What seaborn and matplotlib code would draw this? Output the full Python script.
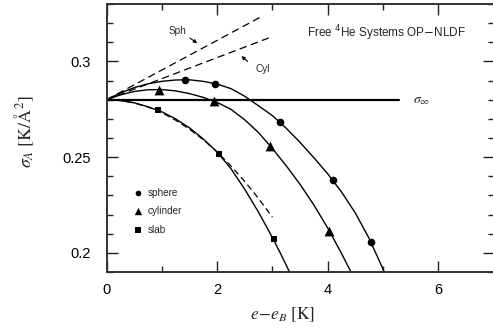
import matplotlib
matplotlib.use("Agg")
import matplotlib.pyplot as plt
import numpy as np
import pandas as pd
import seaborn as sns

# --- data -------------------------------------------------------------
sigma_inf = 0.28

# calculated points
sphere_e = [1.42, 1.96, 3.14, 4.10, 4.78]
sphere_s = [0.2905, 0.2884, 0.2682, 0.2380, 0.2059]
cyl_e = [0.955, 1.95, 2.96, 4.03]
cyl_s = [0.2853, 0.2793, 0.2557, 0.2116]
slab_e = [0.937, 2.03, 3.02]
slab_s = [0.2745, 0.2516, 0.2071]

# fitted curves through the points
sphere_curve_e = [0.0, 0.25, 0.5, 0.75, 1.0, 1.25, 1.5, 1.75, 2.0, 2.25, 2.5, 2.75,
                  3.0, 3.25, 3.5, 3.75, 4.0, 4.25, 4.5, 4.75, 5.0, 5.02]
sphere_curve_s = [0.2800, 0.2835, 0.2863, 0.2883, 0.2896, 0.2903, 0.2904, 0.2896,
                  0.2882, 0.2858, 0.2818, 0.2768, 0.2717, 0.2651, 0.2577, 0.2497,
                  0.2413, 0.2318, 0.2208, 0.2075, 0.1915, 0.1900]
cyl_curve_e = [0.0, 0.25, 0.5, 0.75, 1.0, 1.25, 1.5, 1.75, 2.0, 2.25, 2.5, 2.75,
               3.0, 3.25, 3.5, 3.75, 4.0, 4.25, 4.42]
cyl_curve_s = [0.2800, 0.2825, 0.2843, 0.2852, 0.2853, 0.2846, 0.2832, 0.2812,
               0.2786, 0.2750, 0.2695, 0.2628, 0.2545, 0.2455, 0.2358, 0.2250,
               0.2130, 0.1997, 0.1900]
slab_curve_e = [0.0, 0.25, 0.5, 0.75, 1.0, 1.25, 1.5, 1.75, 2.0, 2.25, 2.5, 2.75,
                3.0, 3.15, 3.31]
slab_curve_s = [0.2800, 0.2796, 0.2784, 0.2763, 0.2737, 0.2700, 0.2653, 0.2595,
                0.2527, 0.2440, 0.2332, 0.2212, 0.2080, 0.1995, 0.1900]

# small-curvature expansions (dashed)
slab_dash_e = [0.0, 0.25, 0.5, 0.75, 1.0, 1.25, 1.5, 1.75, 2.0, 2.25, 2.5, 2.75, 3.0]
slab_dash_s = [0.2800, 0.2796, 0.2783, 0.2762, 0.2732, 0.2693, 0.2646, 0.2591,
               0.2527, 0.2454, 0.2373, 0.2284, 0.2186]
sph_dash_e = [0.0, 2.8]
sph_dash_s = [0.28, 0.3234]
cyl_dash_e = [0.0, 3.0]
cyl_dash_s = [0.28, 0.3130]

sigma_line_e = [0.0, 5.29]

# --- style ------------------------------------------------------------
sns.set_theme(style="ticks")
plt.rcParams["font.family"] = ["Liberation Sans", "DejaVu Sans"]
plt.rcParams["mathtext.fontset"] = "stix"

fig = plt.figure(figsize=(4.93, 3.35), dpi=100)
ax = fig.add_axes([106.5 / 493, 1 - 272 / 335, 387.1 / 493, 268 / 335])

def curve(e, s, dashes=None, **kw):
    df = pd.DataFrame({"e": e, "s": s})
    line = sns.lineplot(data=df, x="e", y="s", ax=ax, sort=False, estimator=None,
                        color="black", **kw).lines[-1]
    if dashes is not None:
        line.set_dashes(dashes)

curve(sphere_curve_e, sphere_curve_s, lw=1.0)
curve(cyl_curve_e, cyl_curve_s, lw=1.0)
curve(slab_curve_e, slab_curve_s, lw=1.0)
curve(slab_dash_e, slab_dash_s, lw=0.9, dashes=(5, 3))
curve(sph_dash_e, sph_dash_s, lw=0.9, dashes=(6, 3.5))
curve(cyl_dash_e, cyl_dash_s, lw=0.9, dashes=(6, 3.5))
curve(sigma_line_e, [sigma_inf, sigma_inf], lw=1.6)

sns.scatterplot(x=sphere_e, y=sphere_s, ax=ax, marker="o", s=30,
                color="black", edgecolor="black", linewidth=0, label="sphere")
sns.scatterplot(x=cyl_e, y=cyl_s, ax=ax, marker="^", s=50,
                color="black", edgecolor="black", linewidth=0, label="cylinder")
sns.scatterplot(x=slab_e, y=slab_s, ax=ax, marker="s", s=24,
                color="black", edgecolor="black", linewidth=0, label="slab")

handles, labels = ax.get_legend_handles_labels()
keep = [i for i, l in enumerate(labels) if l in ("sphere", "cylinder", "slab")]
ax.legend([handles[i] for i in keep], [labels[i] for i in keep],
          loc="upper left", bbox_to_anchor=(0.062, 0.33), frameon=False,
          fontsize=7.2, markerscale=0.75, handlelength=0.6, handletextpad=0.7,
          labelspacing=0.85, borderaxespad=0)

# --- annotations ------------------------------------------------------
ax.text(5.06, 0.3146, r"Free $^{4}$He Systems OP$-$NLDF", ha="center", va="center",
        fontsize=8.5, math_fontfamily="dejavusans")
ax.text(5.54, 0.2800, r"$\sigma_\infty$", ha="left", va="center", fontsize=10)
ax.text(1.29, 0.3158, "Sph", ha="center", va="center", fontsize=7.2)
ax.text(2.83, 0.2962, "Cyl", ha="center", va="center", fontsize=7.2)
ax.annotate("", xy=(1.64, 0.3095), xytext=(1.51, 0.3122),
            arrowprops=dict(arrowstyle="-|>", lw=0.8, color="black",
                            mutation_scale=5, shrinkA=0, shrinkB=0))
ax.annotate("", xy=(2.44, 0.3028), xytext=(2.55, 0.3000),
            arrowprops=dict(arrowstyle="-|>", lw=0.8, color="black",
                            mutation_scale=5, shrinkA=0, shrinkB=0))

# --- axes -------------------------------------------------------------
ax.set_xlim(0, 7)
ax.set_ylim(0.19, 0.33)
ax.set_xticks([0, 2, 4, 6])
ax.set_xticks([1, 3, 5], minor=True)
ax.set_yticks([0.2, 0.25, 0.3])
ax.set_yticklabels(["0.2", "0.25", "0.3"])
ax.set_yticks(np.arange(0.19, 0.331, 0.01), minor=True)
ax.tick_params(which="both", direction="in", top=True, right=True,
               colors="#222222", labelcolor="black", width=1.0)
ax.tick_params(which="major", length=8, labelsize=10.5)
ax.tick_params(axis="x", which="major", pad=8)
ax.tick_params(axis="y", which="major", pad=11)
ax.tick_params(which="minor", length=4)
for sp in ax.spines.values():
    sp.set_linewidth(1.4)
    sp.set_color("#333333")

ax.set_xlabel(r"$e\!-\!e_{B}\ [\mathrm{K}]$", fontsize=12.5)
ax.set_ylabel(r"$\sigma_{A}\ [\mathrm{K/Å^{2}}]$", fontsize=13)
ax.xaxis.set_label_coords(0.455, -0.125)
ax.yaxis.set_label_coords(-0.182, 0.525)

fig.savefig("out.png", dpi=100)
